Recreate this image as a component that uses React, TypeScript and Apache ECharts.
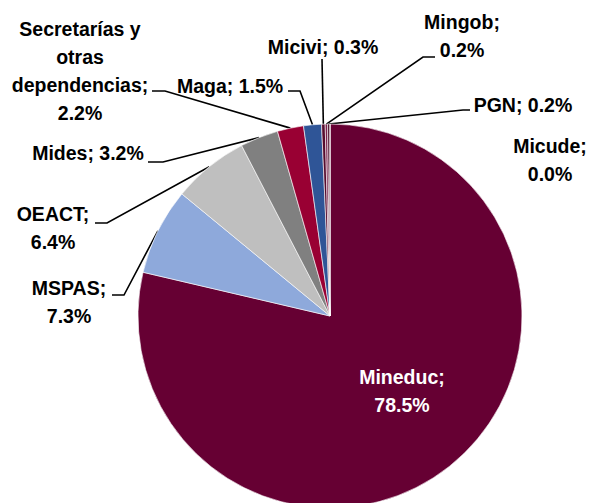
import React, { useEffect, useRef } from "react";
import * as echarts from "echarts";

const categories = [
  "Mineduc",
  "MSPAS",
  "OEACT",
  "Mides",
  "Secretarías y otras dependencias",
  "Maga",
  "Micivi",
  "Mingob",
  "PGN",
  "Micude",
];
const shares = [78.5, 7.3, 6.4, 3.2, 2.2, 1.5, 0.3, 0.2, 0.2, 0.0];
const colors = [
  "#660033",
  "#8EA9DB",
  "#BFBFBF",
  "#808080",
  "#990033",
  "#2F5597",
  "#560C2E",
  "#7A1F4C",
  "#4A0A28",
  "#3A0A20",
];

// how each label is wrapped
const labelNames = [
  "Mineduc;\n",
  "MSPAS;\n",
  "OEACT;\n",
  "Mides; ",
  "Secretarías y\notras\ndependencias;\n",
  "Maga; ",
  "Micivi; ",
  "Mingob;\n",
  "PGN; ",
  "Micude;\n",
];

// label block centres and leader-line elbows
const placement: { x: number; y: number; line?: number[][] }[] = [
  { x: 402, y: 391 },
  { x: 69, y: 302, line: [[124, 295], [112, 295]] },
  { x: 53, y: 228, line: [[107, 223], [95, 223]] },
  { x: 88, y: 153, line: [[163, 162], [148, 162]] },
  { x: 80, y: 71, line: [[165, 91], [152, 91]] },
  { x: 230, y: 86, line: [[300, 91], [288, 91]] },
  { x: 323, y: 47, line: [[322, 59]] },
  { x: 462, y: 36, line: [[423, 57], [435, 57]] },
  { x: 523, y: 105, line: [[463, 110], [470, 110]] },
  { x: 550, y: 160 },
];

const FONT = "'Liberation Sans', Arial, sans-serif";

export default function App() {
  const ref = useRef<HTMLDivElement>(null);
  useEffect(() => {
    if (!ref.current) return;
    const chart = echarts.init(ref.current, undefined, { renderer: "svg" });
    const data = categories.map((name, i) => ({
      name,
      value: shares[i],
      itemStyle: { color: colors[i] },
      label: i === 0 ? { color: "#ffffff" } : undefined,
      labelLine: i === 0 || i === 9 ? { show: false } : undefined,
    }));
    chart.setOption({
      animation: false,
      backgroundColor: "#ffffff",
      series: [
        {
          type: "pie",
          center: [330, 316],
          radius: 192,
          startAngle: 90,
          clockwise: true,
          avoidLabelOverlap: false,
          data,
          itemStyle: { borderColor: "#ffffff", borderWidth: 0.6 },
          label: {
            show: true,
            position: "outside",
            color: "#000000",
            fontFamily: FONT,
            fontWeight: "bold",
            fontSize: 19.5,
            lineHeight: 28,
            align: "center",
            formatter: (p: any) =>
              labelNames[p.dataIndex] + Number(p.value).toFixed(1) + "%",
          },
          labelLine: {
            show: true,
            length: 10,
            length2: 10,
            lineStyle: { color: "#000000", width: 1.6 },
          },
          labelLayout: (params: any) => {
            const i = params.dataIndex;
            const p = placement[i];
            const res: any = {
              x: p.x,
              y: p.y,
              align: "center",
              verticalAlign: "middle",
            };
            if (p.line && params.labelLinePoints) {
              res.labelLinePoints = [params.labelLinePoints[0], ...p.line];
            }
            return res;
          },
        },
      ],
    });
    return () => chart.dispose();
  }, []);
  return (
    <div
      ref={ref}
      style={{ position: "absolute", left: 0, top: 0, width: 594, height: 503 }}
    />
  );
}
